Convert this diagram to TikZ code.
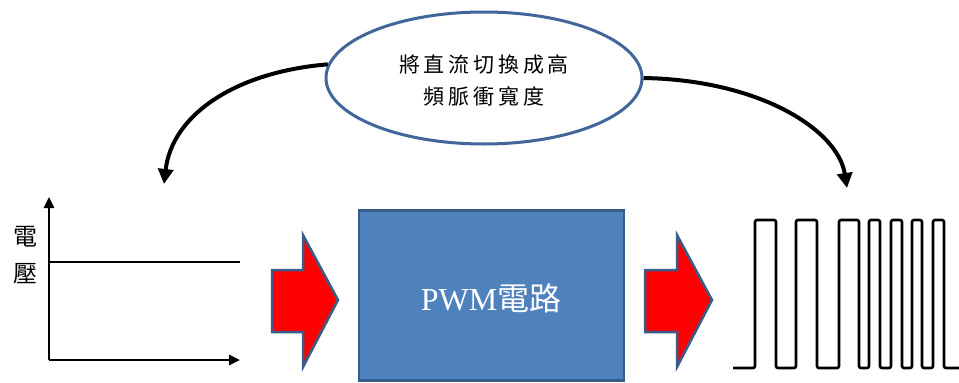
\documentclass[tikz,border=0pt]{standalone}
\usepackage{fontspec}
\setmainfont{Liberation Serif}
\newfontfamily\cjk[LetterSpace=18]{Noto Sans CJK TC}
\newfontfamily\cjkb{Noto Sans CJK TC}
\usetikzlibrary{shapes.geometric,arrows.meta}
\definecolor{boxfill}{HTML}{4F81BD}
\definecolor{boxline}{HTML}{385D8A}
\definecolor{ellline}{HTML}{41679A}
\tikzset{
  ellnode/.style={draw=ellline,line width=3pt,fill=white,ellipse,minimum width=316pt,minimum height=132pt,inner sep=0pt},
  pwmbox/.style={draw=boxline,line width=2.5pt,fill=boxfill,minimum width=265pt,minimum height=170pt,inner sep=0pt,text=white},
  bigarrow/.style={draw=boxline,line width=2.5pt,fill=red,line join=miter},
  curvearrow/.style={line width=4pt,-{Triangle[length=15pt,width=15pt]}},
  axisline/.style={line width=2.6pt,-{Triangle[length=11pt,width=10pt]}},
  waveline/.style={line width=2.6pt,rounded corners=2pt},
}
\begin{document}
\begin{tikzpicture}[x=1pt,y=-1pt]
\useasboundingbox (0,0) rectangle (959,383);
% ellipse
\node[ellnode] (ell) at (484,78) {};
\node[align=center,font=\cjk\fontsize{21}{32}\selectfont] (etext) at (484,81) {將直流切換成高\\頻脈衝寬度};
% curved arrows
\coordinate (ltip) at (164,184);
\coordinate (rtip) at (847,188);
\draw[curvearrow] (ell.175) .. controls (235,72) and (172,115) .. (ltip);
\draw[curvearrow] (ell.east) .. controls (760,80) and (838,130) .. (rtip);
% axes
\coordinate (org) at (49,360);
\coordinate (ytop) at (49,197);
\coordinate (xend) at (240,360);
\coordinate (lvl0) at (49,262);
\coordinate (lvl1) at (240,262);
\draw[axisline] (org) -- (ytop);
\draw[axisline] (org) -- (xend);
\draw[line width=2pt] (lvl0) -- (lvl1);
\node[font=\cjkb\fontsize{24}{24}\selectfont,inner sep=0pt] (v1) at (25,237) {電};
\node[font=\cjkb\fontsize{24}{24}\selectfont,inner sep=0pt] (v2) at (25,274) {壓};
% red arrows
\draw[bigarrow] (272,270) -- (303,270) -- (303,235) -- (338,300) -- (303,367) -- (303,332) -- (272,332) -- cycle;
\draw[bigarrow] (645,270) -- (677,270) -- (677,235) -- (712,300) -- (677,367) -- (677,332) -- (645,332) -- cycle;
% PWM box
\node[pwmbox] (pwm) at (491.5,295.5) {};
\node[font=\fontsize{32}{32}\selectfont,text=white] (pwmtext) at (491,298) {PWM{\cjkb 電路}};
% waveform
\draw[waveline] (733,368) -- (755,368) -- (755,220) -- (776,220) -- (776,368)
  -- (796,368) -- (796,220) -- (817,220) -- (817,368)
  -- (839,368) -- (839,220) -- (859,220) -- (859,368)
  -- (869,368) -- (869,220) -- (880,220) -- (880,368)
  -- (891,368) -- (891,220) -- (902,220) -- (902,368)
  -- (912,368) -- (912,220) -- (922,220) -- (922,368)
  -- (933,368) -- (933,220) -- (944,220) -- (944,368) -- (959,368);
\end{tikzpicture}
\end{document}
